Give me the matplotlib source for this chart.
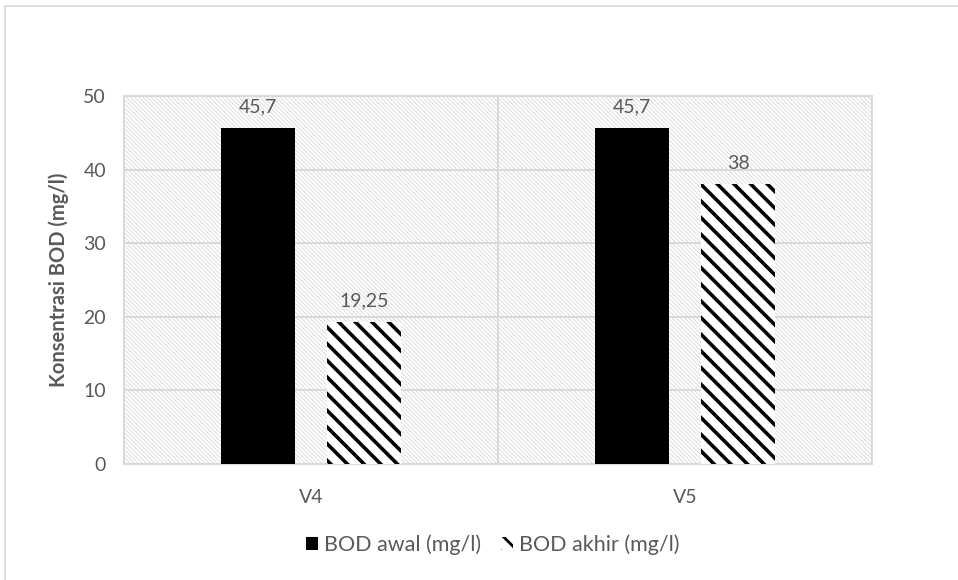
import numpy as np
import matplotlib
matplotlib.use("Agg")
import matplotlib.pyplot as plt
from matplotlib.patches import Rectangle

# ---------- Data ----------
categories = ["V4", "V5"]
bod_awal = [45.7, 45.7]
bod_akhir = [19.25, 38.0]
awal_labels = ["45,7", "45,7"]
akhir_labels = ["19,25", "38"]
yticks = [0, 10, 20, 30, 40, 50]

GREY_TXT = "#595959"
GRID = "#d9d9d9"

plt.rcParams["font.family"] = ["Lato", "DejaVu Sans"]

fig = plt.figure(figsize=(9.58, 5.8), dpi=100)
ax = fig.add_axes([124 / 958, 1 - 464 / 580, 748 / 958, 368 / 580])

# outer chart frame
fig.patches.append(Rectangle((5 / 958, -0.1), 1.2, 1.1 - 6 / 580,
                             transform=fig.transFigure, fill=False,
                             edgecolor=GRID, linewidth=1.3, zorder=0))


def hatch_lw(patch, lw):
    if hasattr(patch, "set_hatch_linewidth"):
        patch.set_hatch_linewidth(lw)


# light diagonal background of the plot area
plt.rcParams["hatch.linewidth"] = 0.6
bg = Rectangle((0, 0), 1, 1, transform=ax.transAxes, facecolor="white",
               edgecolor=GRID, linewidth=0, hatch="\\" * 8, zorder=0)
hatch_lw(bg, 0.6)
ax.add_patch(bg)

x = np.arange(len(categories))
w = 0.198
off = 0.142

b1 = ax.bar(x - off, bod_awal, w, color="black", zorder=3,
            label="BOD awal (mg/l)")
plt.rcParams["hatch.linewidth"] = 2.6
b2 = ax.bar(x + off, bod_akhir, w, facecolor="white", edgecolor="black",
            linewidth=0, hatch="\\\\", zorder=3, label="BOD akhir (mg/l)")
for p in b2:
    hatch_lw(p, 2.6)

for rect, lab in zip(b1, awal_labels):
    ax.annotate(lab, (rect.get_x() + rect.get_width() / 2, rect.get_height()),
                xytext=(0, 9), textcoords="offset points", ha="center",
                va="bottom", fontsize=14, color=GREY_TXT)
for rect, lab in zip(b2, akhir_labels):
    ax.annotate(lab, (rect.get_x() + rect.get_width() / 2, rect.get_height()),
                xytext=(0, 9), textcoords="offset points", ha="center",
                va="bottom", fontsize=14, color=GREY_TXT)

ax.set_xlim(-0.5, len(categories) - 0.5)
ax.set_ylim(0, 50)
ax.set_yticks(yticks)
ax.set_xticks(x)
ax.set_xticklabels(categories)
ax.tick_params(length=0, labelsize=14, labelcolor=GREY_TXT)
ax.tick_params(axis="y", pad=13)
ax.tick_params(axis="x", pad=18)

# horizontal grid and category separators
ax.set_axisbelow(True)
ax.yaxis.grid(True, color=GRID, linewidth=1.4, zorder=1)
for xb in np.arange(0.5, len(categories) - 0.5, 1.0):
    ax.axvline(xb, color=GRID, linewidth=1.4, zorder=1)
for s in ax.spines.values():
    s.set_color(GRID)
    s.set_linewidth(1.4)

ax.set_ylabel("Konsentrasi BOD (mg/l)", fontsize=14.5, fontweight="bold",
              color=GREY_TXT, labelpad=10)

plt.rcParams["hatch.linewidth"] = 2.0
leg = fig.legend(handles=[b1, b2], loc="center", bbox_to_anchor=(493 / 958, 1 - 545 / 580),
                 ncol=2, frameon=False, fontsize=15.5, handlelength=0.55,
                 handleheight=0.55, handletextpad=0.3, columnspacing=0.9)
for t in leg.get_texts():
    t.set_color(GREY_TXT)

fig.savefig("out.png", dpi=100)
